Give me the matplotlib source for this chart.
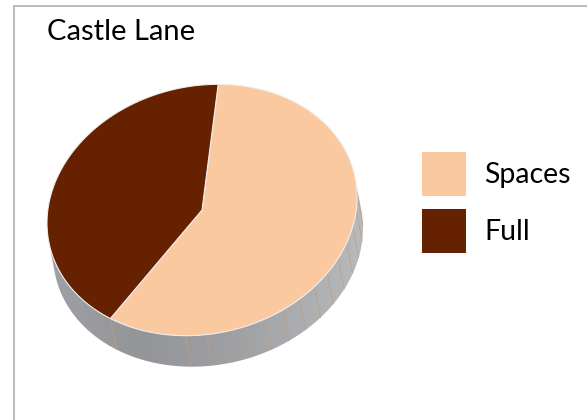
import numpy as np
import matplotlib.pyplot as plt
from matplotlib.patches import Polygon, Rectangle
from matplotlib.colors import LinearSegmentedColormap

# Data
labels = ["Spaces", "Full"]
values = [58.4, 41.6]
colors = ["#FBC99F", "#662200"]
title = "Castle Lane"

# Layout (pixel coordinates, y downwards)
W, H = 587, 420
cx, cy = 202, 210              # centre of the top face
U = np.array([155.0, -13.0])   # ellipse axis for t = 0
V = np.array([0.0, -125.0])    # ellipse axis for t = 90
D = np.array([6.0, 31.0])      # thickness of the pie
start = 84.0                   # angle of the first slice edge (deg)

plt.rcParams['font.family'] = ['Lato', 'DejaVu Sans']
fig = plt.figure(figsize=(W / 100, H / 100), dpi=100)
ax = fig.add_axes([0, 0, 1, 1])
ax.set_xlim(0, W)
ax.set_ylim(H, 0)
ax.axis("off")


def pt(theta_deg, shift=False):
    t = np.radians(theta_deg)
    p = np.array([cx, cy]) + U * np.cos(t) + V * np.sin(t)
    if shift:
        p = p + D
    return p


# slice angle ranges, clockwise from start
fracs = np.array(values) / np.sum(values)
ranges = []
cur = start
for f in fracs:
    ranges.append((cur - f * 360, cur))
    cur -= f * 360

# silhouette of the side: where the rim tangent is parallel to D
num = V[0] * D[1] - V[1] * D[0]
den = U[0] * D[1] - U[1] * D[0]
t1 = np.degrees(np.arctan2(num, den)) + 180
t2 = t1 + 180
ts = np.linspace(t1, t2, 300)
side = [pt(t) for t in ts] + [pt(t, True) for t in ts[::-1]]
side_patch = Polygon(side, closed=True, facecolor="none", edgecolor="none")
ax.add_patch(side_patch)

grey = LinearSegmentedColormap.from_list(
    "side", [(0.0, "#a0a1a4"), (0.3, "#949599"), (0.6, "#a0a1a4"), (1.0, "#b9bbbd")])
grad = np.linspace(0, 1, 256).reshape(1, -1)
im = ax.imshow(grad, cmap=grey, extent=[cx - 160, cx + 170, 380, 180],
               aspect="auto", zorder=1, interpolation="bilinear")
im.set_clip_path(side_patch)

# facet lines on the side
for th in list(np.arange(264, 362, 7.5)) + [ranges[0][0] % 360]:
    p0 = pt(th); p1 = pt(th, True)
    ax.plot([p0[0], p1[0]], [p0[1], p1[1]], color="#c49c7c", lw=0.6,
            alpha=0.8, zorder=2)

# top face
for (a0, a1), col in zip(ranges, colors):
    tt = np.linspace(a0, a1, 200)
    pts = [(cx, cy)] + [pt(t) for t in tt]
    ax.add_patch(Polygon(pts, closed=True, facecolor=col, edgecolor="#eeeeee",
                         lw=0.8, zorder=3))

# title
ax.text(47, 32, title, fontsize=21, color="black", va="center", ha="left")

# legend
for i, (lab, col) in enumerate(zip(labels, colors)):
    y = 152 + i * 57
    ax.add_patch(Rectangle((422, y), 44, 44, facecolor=col, edgecolor="none"))
    ax.text(484, y + 23, lab, fontsize=20.5, color="black", va="center", ha="left")

# chart border
ax.plot([13.5, 13.5, W + 5], [H + 5, 5.5, 5.5], color="#b5b5b5", lw=1.3,
        solid_joinstyle="miter", clip_on=False)

fig.savefig("out.png", dpi=100)
